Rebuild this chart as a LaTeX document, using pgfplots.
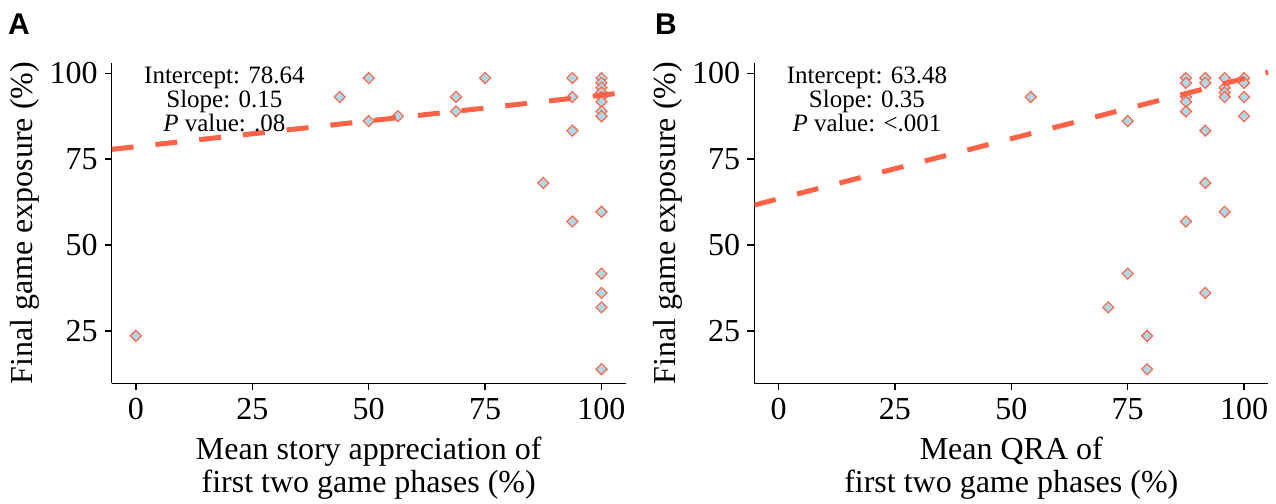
\documentclass[border=0pt]{standalone}
\usepackage{fontspec}
\setmainfont{Liberation Serif}
\newfontfamily\panelfont{Liberation Sans}
\usepackage{pgfplots}
\usepackage{pgfplotstable}
\pgfplotsset{compat=1.18}
\definecolor{tomato}{HTML}{FF6347}
\definecolor{ptfill}{HTML}{ADD8E6}

% story appreciation vs final exposure
\pgfplotstableread{
x y
0 23.6
43.75 93.1
50 98.6
50 86.1
56.25 87.5
68.75 88.9
68.75 93.1
75 98.6
87.5 68.1
93.75 98.6
93.75 93.1
93.75 83.3
93.75 56.9
100 98.6
100 97.2
100 95.8
100 94.4
100 93.1
100 91.7
100 88.9
100 87.5
100 59.7
100 41.7
100 36.1
100 31.9
100 13.9
}\storydata

% QRA vs final exposure
\pgfplotstableread{
x y
54.17 93.1
70.83 31.9
75 86.1
75 41.7
79.17 23.6
79.17 13.9
87.5 98.6
87.5 97.2
87.5 93.1
87.5 91.7
87.5 88.9
87.5 56.9
91.67 98.6
91.67 97.2
91.67 83.3
91.67 68.1
91.67 36.1
95.83 98.6
95.83 95.8
95.83 94.4
95.83 93.1
95.83 59.7
100 98.6
100 97.2
100 93.1
100 87.5
}\qradata

\pgfplotsset{
  ggpanel/.style={
    scale only axis, width=514pt, height=320pt,
    xmin=-5.2, xmax=105.2, ymin=9.8, ymax=102.9,
    axis x line*=bottom, axis y line*=left,
    axis line style={line width=1.5pt, black, -},
    xtick={0,25,50,75,100}, ytick={25,50,75,100},
    tick align=outside, major tick length=7pt,
    tick style={line width=1.5pt, black},
    /pgf/number format/assume math mode=true,
    ticklabel style={font=\fontsize{32}{36}\selectfont, inner sep=0pt},
    xticklabel style={anchor=north, yshift=-8pt},
    yticklabel style={anchor=east, xshift=-7pt},
    ylabel={Final game exposure (\%)},
    ylabel style={at={(axis description cs:-0.169,0.5)}, anchor=center},
    label style={font=\fontsize{32}{33.4}\selectfont},
    xlabel style={align=center, at={(axis description cs:0.5,0)}, anchor=north, inner sep=0pt, yshift=-53.4pt},
    clip mode=individual,
  },
  pts/.style={only marks, mark=square*, mark size=3.9pt,
    mark options={rotate=45, fill=ptfill, draw=tomato, line width=1.1pt}},
  fit/.style={tomato, line width=5pt, dash pattern=on 22pt off 22pt},
}
\tikzset{
  stats/.style={align=center, anchor=north, inner sep=0pt, font=\fontsize{25}{20.7}\selectfont},
  panel/.style={font=\panelfont\bfseries\fontsize{30}{30}\selectfont, anchor=north west, inner sep=0pt},
}

\begin{document}
\begin{tikzpicture}
\path[use as bounding box] (0pt,0pt) rectangle (1276pt,-503pt);

\begin{axis}[ggpanel, at={(111.7pt,-383.3pt)}, anchor=south west,
  xlabel={Mean story appreciation of\\first two game phases (\%)}]
  \addplot[pts] table[x=x, y=y] {\storydata};
  \addplot[fit] coordinates {(-5.2,77.86) (105.2,94.42)};
  \node[stats] at (axis cs:19,101.8) {Intercept: 78.64\\Slope: 0.15\\\textit{P} value: .08};
\end{axis}

\begin{axis}[ggpanel, at={(754.3pt,-383.3pt)}, anchor=south west,
  xlabel={Mean QRA of\\first two game phases (\%)}]
  \addplot[pts] table[x=x, y=y] {\qradata};
  \addplot[fit] coordinates {(-5.2,61.66) (105.2,100.30)};
  \node[stats] at (axis cs:19,101.8) {Intercept: 63.48\\Slope: 0.35\\\textit{P} value: <.001};
\end{axis}

\node[panel] at (8pt,-14pt) {A};
\node[panel] at (655pt,-14pt) {B};
\end{tikzpicture}
\end{document}
